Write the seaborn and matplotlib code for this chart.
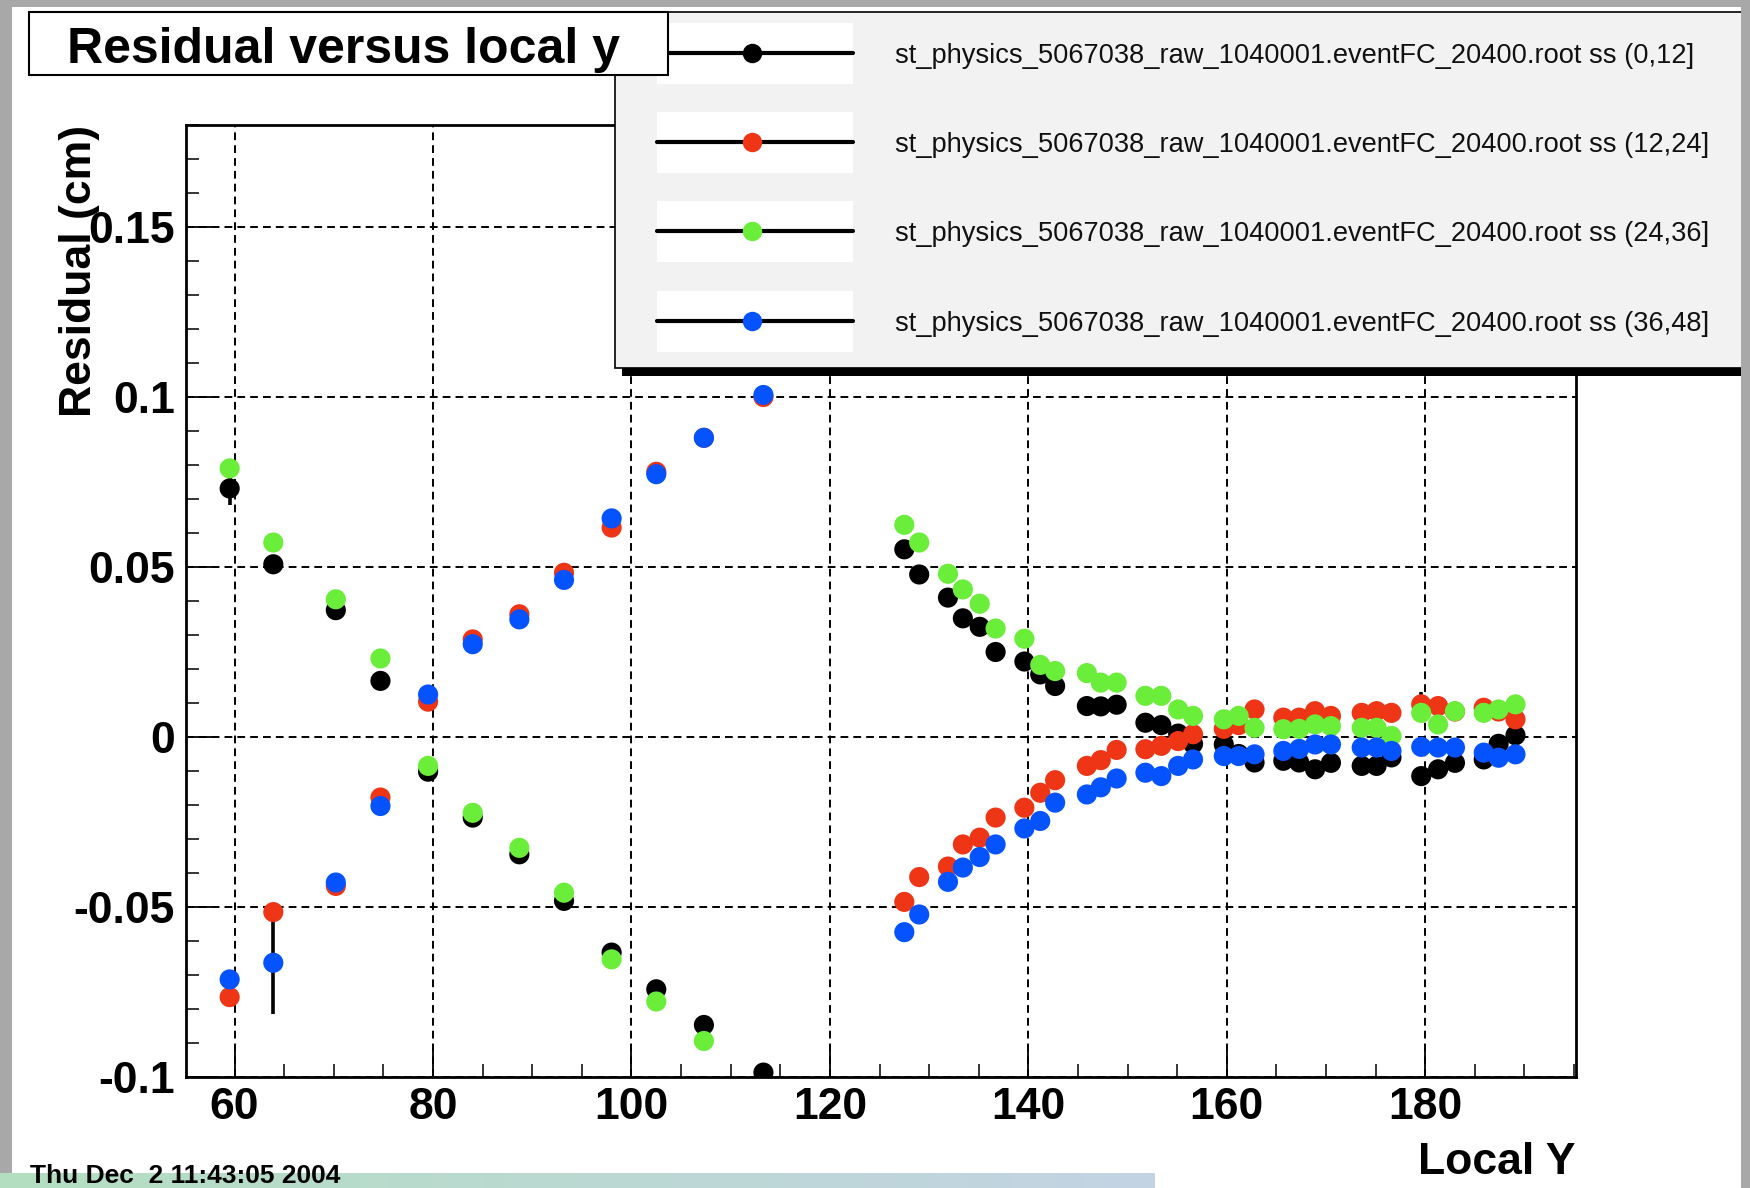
import numpy as np
import pandas as pd
import matplotlib
matplotlib.use("Agg")
import matplotlib.pyplot as plt
import seaborn as sns
from matplotlib.patches import Rectangle
from matplotlib.lines import Line2D
from matplotlib.colors import LinearSegmentedColormap
from matplotlib.ticker import MultipleLocator, FixedLocator, FixedFormatter

# ---------------- data ----------------
local_y = [59.5, 63.9, 70.2, 74.7, 79.5, 84.0, 88.7, 93.2, 98.0, 102.5, 107.3, 113.3,
           127.5, 129.0, 131.9, 133.4, 135.1, 136.7, 139.6, 141.2, 142.7,
           145.9, 147.3, 148.9, 151.8, 153.4, 155.1, 156.6, 159.7, 161.2, 162.8,
           165.7, 167.3, 168.9, 170.5, 173.6, 175.1, 176.6, 179.6, 181.3, 183.0,
           185.9, 187.4, 189.1]

res_ss_0_12 = [0.0731, 0.0508, 0.0373, 0.0165, -0.0102, -0.0237, -0.0345, -0.0482, -0.0634, -0.0742, -0.0847, -0.0987,
               0.0552, 0.0478, 0.0410, 0.0349, 0.0324, 0.0250, 0.0222, 0.0184, 0.0150,
               0.0091, 0.0090, 0.0095, 0.0042, 0.0035, 0.0010, -0.0020, -0.0022, -0.0050, -0.0075,
               -0.0070, -0.0075, -0.0095, -0.0076, -0.0085, -0.0085, -0.0060, -0.0115, -0.0095, -0.0076,
               -0.0066, -0.0020, 0.0005]
res_ss_12_24 = [-0.0765, -0.0515, -0.0438, -0.0178, 0.0104, 0.0287, 0.0361, 0.0483, 0.0616, 0.0780, 0.0880, 0.1000,
                -0.0485, -0.0412, -0.0381, -0.0316, -0.0296, -0.0237, -0.0208, -0.0164, -0.0127,
                -0.0085, -0.0068, -0.0038, -0.0036, -0.0026, -0.0012, 0.0008, 0.0024, 0.0035, 0.0081,
                0.0057, 0.0057, 0.0076, 0.0062, 0.0071, 0.0076, 0.0071, 0.0096, 0.0091, 0.0075,
                0.0086, 0.0075, 0.0052]
res_ss_24_36 = [0.0790, 0.0572, 0.0405, 0.0231, -0.0085, -0.0223, -0.0326, -0.0458, -0.0654, -0.0778, -0.0894, -0.1040,
                0.0624, 0.0572, 0.0480, 0.0434, 0.0392, 0.0319, 0.0289, 0.0212, 0.0194,
                0.0188, 0.0160, 0.0160, 0.0121, 0.0121, 0.0081, 0.0062, 0.0052, 0.0062, 0.0027,
                0.0023, 0.0024, 0.0037, 0.0032, 0.0027, 0.0027, 0.0003, 0.0071, 0.0037, 0.0076,
                0.0071, 0.0081, 0.0096]
res_ss_36_48 = [-0.0713, -0.0664, -0.0428, -0.0203, 0.0125, 0.0273, 0.0346, 0.0462, 0.0643, 0.0773, 0.0880, 0.1006,
                -0.0574, -0.0522, -0.0426, -0.0384, -0.0353, -0.0316, -0.0269, -0.0247, -0.0193,
                -0.0169, -0.0148, -0.0122, -0.0105, -0.0115, -0.0085, -0.0066, -0.0056, -0.0056, -0.0051,
                -0.0041, -0.0035, -0.0022, -0.0022, -0.0031, -0.0031, -0.0041, -0.0029, -0.0031, -0.0031,
                -0.0046, -0.0061, -0.0051]

err_ss_0_12 = [0.005, 0.002, 0.002, 0.002, 0.002, 0.002, 0.002, 0.002, 0.002, 0.002, 0.002, 0.002,
               0.002, 0.002, 0.002, 0.002, 0.002, 0.002, 0.002, 0.002, 0.002,
               0.002, 0.002, 0.002, 0.002, 0.002, 0.002, 0.002, 0.002, 0.002, 0.0025,
               0.0025, 0.0025, 0.0025, 0.0025, 0.0025, 0.0025, 0.0025, 0.0025, 0.0025, 0.0025,
               0.0025, 0.0025, 0.0025]
err_ss_12_24 = [0.002, 0.002, 0.002, 0.002, 0.002, 0.002, 0.002, 0.002, 0.002, 0.002, 0.002, 0.002,
                0.002, 0.002, 0.002, 0.002, 0.002, 0.002, 0.002, 0.002, 0.002,
                0.002, 0.002, 0.002, 0.002, 0.002, 0.002, 0.002, 0.002, 0.002, 0.0025,
                0.0025, 0.0025, 0.0025, 0.0025, 0.0025, 0.0025, 0.0025, 0.0035, 0.0025, 0.0025,
                0.0025, 0.0025, 0.0025]
err_ss_24_36 = [0.002, 0.002, 0.002, 0.002, 0.002, 0.002, 0.002, 0.002, 0.002, 0.002, 0.002, 0.002,
                0.002, 0.002, 0.002, 0.002, 0.002, 0.002, 0.002, 0.002, 0.002,
                0.002, 0.002, 0.002, 0.002, 0.002, 0.002, 0.002, 0.002, 0.002, 0.0025,
                0.0025, 0.0025, 0.0025, 0.0025, 0.0025, 0.0025, 0.0025, 0.0025, 0.0025, 0.0025,
                0.0025, 0.0025, 0.0025]
err_ss_36_48 = [0.002, 0.015, 0.002, 0.002, 0.002, 0.002, 0.002, 0.002, 0.002, 0.002, 0.002, 0.002,
                0.002, 0.002, 0.002, 0.002, 0.002, 0.002, 0.002, 0.002, 0.002,
                0.002, 0.002, 0.002, 0.002, 0.002, 0.002, 0.002, 0.002, 0.002, 0.0025,
                0.0025, 0.0025, 0.0025, 0.0025, 0.0025, 0.0025, 0.0025, 0.0025, 0.0025, 0.0025,
                0.0025, 0.0025, 0.0025]

series_labels = [
    "st_physics_5067038_raw_1040001.eventFC_20400.root ss (0,12]",
    "st_physics_5067038_raw_1040001.eventFC_20400.root ss (12,24]",
    "st_physics_5067038_raw_1040001.eventFC_20400.root ss (24,36]",
    "st_physics_5067038_raw_1040001.eventFC_20400.root ss (36,48]",
]
series_colors = ["#000000", "#ee3516", "#6aee3a", "#0552ff"]

x_major_ticks = [60, 80, 100, 120, 140, 160, 180]
y_major_ticks = [-0.1, -0.05, 0, 0.05, 0.1, 0.15]
y_tick_labels = ["-0.1", "-0.05", "0", "0.05", "0.1", "0.15"]

title_text = "Residual versus local y"
x_title = "Local Y"
y_title = "Residual (cm)"
date_text = "Thu Dec  2 11:43:05 2004"

# ---------------- style ----------------
sns.set_theme(style="white")
plt.rcParams['font.family'] = ['Liberation Sans', 'DejaVu Sans']

W, H = 1750, 1188
fig = plt.figure(figsize=(W / 100, H / 100), dpi=100)
fig.patch.set_facecolor('white')


def fx(px):
    return px / W


def fy(py):
    return 1 - py / H


ax = fig.add_axes([fx(186), fy(1077), (1576 - 186) / W, (1077 - 125) / H])
ax.set_facecolor('white')

all_res = [res_ss_0_12, res_ss_12_24, res_ss_24_36, res_ss_36_48]
all_err = [err_ss_0_12, err_ss_12_24, err_ss_24_36, err_ss_36_48]

frames = []
for lab, vals, errs in zip(series_labels, all_res, all_err):
    frames.append(pd.DataFrame({'local_y': local_y, 'residual': vals, 'err': errs, 'series': lab}))
df = pd.concat(frames, ignore_index=True)

for lab in series_labels:
    sub = df[df['series'] == lab]
    ax.errorbar(sub['local_y'], sub['residual'], yerr=sub['err'], fmt='none',
                ecolor='black', elinewidth=2.6, capsize=0, zorder=3)

sns.scatterplot(data=df, x='local_y', y='residual', hue='series',
                palette=dict(zip(series_labels, series_colors)),
                s=210, edgecolor='none', linewidth=0, legend=False, ax=ax, zorder=4)

ax.set_xlim(55.1, 195.2)
ax.set_ylim(-0.1, 0.18)
ax.xaxis.set_major_locator(FixedLocator(x_major_ticks))
ax.xaxis.set_minor_locator(MultipleLocator(5))
ax.yaxis.set_major_locator(FixedLocator(y_major_ticks))
ax.yaxis.set_major_formatter(FixedFormatter(y_tick_labels))
ax.yaxis.set_minor_locator(MultipleLocator(0.01))

ax.tick_params(which='major', direction='in', length=19, width=1.3, labelsize=32,
               pad=8, top=False, right=False, left=True, bottom=True, colors='black')
ax.tick_params(which='minor', direction='in', length=9.5, width=1.1,
               top=False, right=False, left=True, bottom=True, colors='black')
ax.tick_params(axis='x', which='major', pad=7)
for lbl in ax.get_xticklabels() + ax.get_yticklabels():
    lbl.set_fontweight('bold')

ax.grid(True, which='major', color='black', linestyle=(0, (4, 2.6)), linewidth=1.4)
ax.set_axisbelow(True)
for sp in ax.spines.values():
    sp.set_color('black')
    sp.set_linewidth(2)
    sp.set_visible(True)

ax.set_xlabel(x_title, loc='right', fontsize=32, fontweight='bold', color='black')
ax.xaxis.set_label_coords(1.0, -0.068)
ax.set_ylabel(y_title, loc='top', fontsize=32, fontweight='bold', color='black')
ax.yaxis.set_label_coords(-0.062, 1.0)

# ---------------- legend (ROOT style) ----------------
fig.add_artist(Rectangle((fx(622), fy(376)), (1760 - 622) / W, 8 / H, transform=fig.transFigure,
                         facecolor='black', edgecolor='none', zorder=5))
fig.add_artist(Rectangle((fx(615), fy(368)), (1760 - 615) / W, (368 - 12) / H, transform=fig.transFigure,
                         facecolor='#f2f2f2', edgecolor='black', linewidth=1.2, zorder=6))
entry_y = [53, 142, 231, 321]
for lab, col, yc in zip(series_labels, series_colors, entry_y):
    fig.add_artist(Rectangle((fx(657), fy(yc + 31)), 196 / W, 61 / H, transform=fig.transFigure,
                             facecolor='white', edgecolor='none', zorder=7))
    fig.add_artist(Line2D([fx(657), fx(853)], [fy(yc), fy(yc)], transform=fig.transFigure,
                          color='black', linewidth=3, zorder=8))
    fig.add_artist(Line2D([fx(752)], [fy(yc)], transform=fig.transFigure, marker='o',
                          markersize=14, color=col, markeredgewidth=0, linestyle='none', zorder=9))
    fig.text(fx(895), fy(yc + 3), lab, fontsize=19.6, va='center', ha='left', color='#111111', zorder=9)

# ---------------- title box ----------------
fig.add_artist(Rectangle((fx(29), fy(75)), (668 - 29) / W, (75 - 12) / H, transform=fig.transFigure,
                         facecolor='white', edgecolor='black', linewidth=1.5, zorder=10))
fig.text(fx(67), fy(63), title_text, fontsize=36, fontweight='bold', va='baseline', ha='left',
         color='black', zorder=11)

# ---------------- slide decorations ----------------
strip_ax = fig.add_axes([0, 0, 1155 / W, 15 / H], zorder=1)
strip_cmap = LinearSegmentedColormap.from_list('strip', ['#b3dfc0', '#c3d3e4'])
strip_ax.imshow(np.linspace(0, 1, 256)[None, :], aspect='auto', cmap=strip_cmap)
strip_ax.set_axis_off()

fig.text(fx(30), fy(1183), date_text, fontsize=19, fontweight='bold', va='baseline', ha='left',
         color='black', zorder=12)

border = '#a8a8a8'
fig.add_artist(Rectangle((0, fy(1173)), 12 / W, 1173 / H, transform=fig.transFigure,
                         facecolor=border, edgecolor='none', zorder=20))
fig.add_artist(Rectangle((fx(1741), 0), 9 / W, 1, transform=fig.transFigure,
                         facecolor=border, edgecolor='none', zorder=20))
fig.add_artist(Rectangle((0, fy(7)), 1, 7 / H, transform=fig.transFigure,
                         facecolor=border, edgecolor='none', zorder=20))

fig.savefig('out.png', dpi=100, facecolor=fig.get_facecolor())
